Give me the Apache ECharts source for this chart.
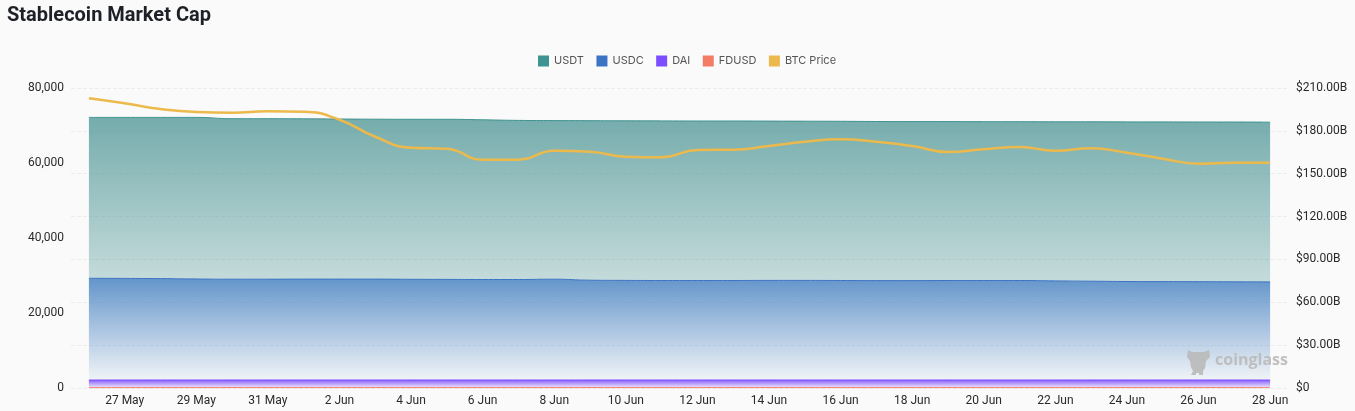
<!DOCTYPE html>
<html><head><meta charset="utf-8">
<style>html,body{margin:0;padding:0;background:#fafafa}#c{width:1355px;height:411px}</style>
<script src="https://cdn.jsdelivr.net/npm/echarts@6/dist/echarts.min.js"></script>
</head><body><div id="c"></div>
<script>
const dates = ["26 May","27 May","28 May","29 May","30 May","31 May","1 Jun","2 Jun","3 Jun","4 Jun","5 Jun","6 Jun","7 Jun","8 Jun","9 Jun","10 Jun","11 Jun","12 Jun","13 Jun","14 Jun","15 Jun","16 Jun","17 Jun","18 Jun","19 Jun","20 Jun","21 Jun","22 Jun","23 Jun","24 Jun","25 Jun","26 Jun","27 Jun","28 Jun"];
const usdt = [42907,42933,42987,43093,42800,42800,42747,42693,42640,42666,42693,42587,42427,42294,42533,42560,42560,42533,42533,42480,42454,42453,42427,42400,42373,42346,42346,42427,42507,42560,42587,42586,42613,42587];
const usdc = [27123,27097,27043,26937,26883,26883,26910,26910,26910,26857,26830,26803,26803,26883,26617,26563,26537,26537,26537,26563,26563,26537,26510,26510,26537,26537,26537,26430,26350,26270,26243,26217,26190,26163];
const dai = [2030,2030,2030,2030,2030,2030,2030,2030,2030,2030,2030,2030,2030,2030,2030,2030,2030,2030,2030,2030,2030,2030,2030,2030,2030,2030,2030,2030,2030,2030,2030,2030,2030,2030];
const fdusd = [100,100,100,100,100,100,100,100,100,100,100,100,100,100,100,100,100,100,100,100,100,100,100,100,100,100,100,100,100,100,100,100,100,100];
const btc = [202.8,199.3,195.3,193.2,192.7,193.7,193.4,187.8,175.9,168.2,167.5,159.8,159.8,166.1,165.4,161.9,161.5,166.6,166.8,169.4,172.4,174.1,172.4,169.4,165.2,167.1,168.7,166.1,167.8,164.7,160.5,157,157.7,157.7];
const legendOrder = ["USDT","USDC","DAI","FDUSD","BTC Price"];

const C = {USDT:"#3f9390",USDC:"#3c74c4",DAI:"#7c4dff",FDUSD:"#f47c65",BTC:"#ecb94d"};
const labelFont = "Roboto, sans-serif";
function grad(rgb,a,b){return {type:"linear",x:0,y:0,x2:0,y2:1,colorStops:[{offset:0,color:`rgba(${rgb},${a})`},{offset:1,color:`rgba(${rgb},${b})`}]};}
function area(name,data,col,rgb,a,b){
  return {name,type:"line",stack:"cap",yAxisIndex:0,data,smooth:true,symbol:"none",
    lineStyle:{width:1,color:col},itemStyle:{color:col,borderColor:col},
    areaStyle:{color:grad(rgb,a,b),opacity:1},emphasis:{disabled:true}};
}
const chart = echarts.init(document.getElementById("c"),null,{renderer:"canvas"});
chart.setOption({
  animation:false,
  backgroundColor:"#fafafa",
  title:{text:"Stablecoin Market Cap",left:7,top:6,padding:0,textStyle:{fontFamily:"Roboto,sans-serif",fontSize:20,fontWeight:700,color:"#1d2026"}},
  legend:{data:legendOrder,top:50.5,left:533,icon:"rect",itemWidth:11,itemHeight:11,itemGap:12.5,
    textStyle:{fontFamily:"'Inter',sans-serif",fontSize:11,color:"#555"}},
  grid:{left:71,right:67,top:88,bottom:23},
  xAxis:{type:"category",data:dates,boundaryGap:true,
    axisLine:{show:false},axisTick:{show:false},splitLine:{show:false},
    axisLabel:{interval:(i)=>i%2===1,margin:7,hideOverlap:false,color:"#2a2a2a",fontFamily:labelFont,fontSize:12}},
  yAxis:[
    {type:"value",min:0,max:80000,interval:20000,splitLine:{show:false},axisLine:{show:false},axisTick:{show:false},
      axisLabel:{margin:7,color:"#2a2a2a",fontFamily:labelFont,fontSize:12,formatter:(v)=>v.toLocaleString("en-US")}},
    {type:"value",min:0,max:210,interval:30,position:"right",axisLine:{show:false},axisTick:{show:false},
      splitLine:{show:true,lineStyle:{type:"dashed",color:"#ececec",width:1}},
      axisLabel:{margin:8,color:"#2a2a2a",fontFamily:labelFont,fontSize:12,formatter:(v)=>v===0?"$0":`$${v}.00B`}}
  ],
  series:[
    area("FDUSD",fdusd,C.FDUSD,"244,124,101",0.9,0.2),
    area("DAI",dai,C.DAI,"124,77,255",0.9,0.1),
    area("USDC",usdc,C.USDC,"62,124,191",0.8,0.05),
    area("USDT",usdt,C.USDT,"61,139,139",0.7,0.28),
    {name:"BTC Price",type:"line",yAxisIndex:1,data:btc,smooth:true,symbol:"none",z:5,
      lineStyle:{width:2.5,color:C.BTC},itemStyle:{color:C.BTC},emphasis:{disabled:true}}
  ],
  graphic:[
    {type:"polygon",z:100,silent:true,
      shape:{points:[[1188,350],[1192,352],[1204,352],[1209,350],[1210,357],[1206,361],[1205,368],[1203,371],[1203,375],[1199,375],[1199,373],[1196,373],[1196,375],[1191,375],[1193,371],[1191,367],[1190,361],[1187,357]]},
      style:{fill:"rgba(185,185,185,0.9)"}},
    {type:"text",z:100,silent:true,x:1215,y:352,
      style:{text:"coinglass",fontFamily:"'Open Sans',sans-serif",fontWeight:700,fontSize:16,fill:"rgba(185,185,185,0.9)"}}
  ]
});
</script></body></html>
